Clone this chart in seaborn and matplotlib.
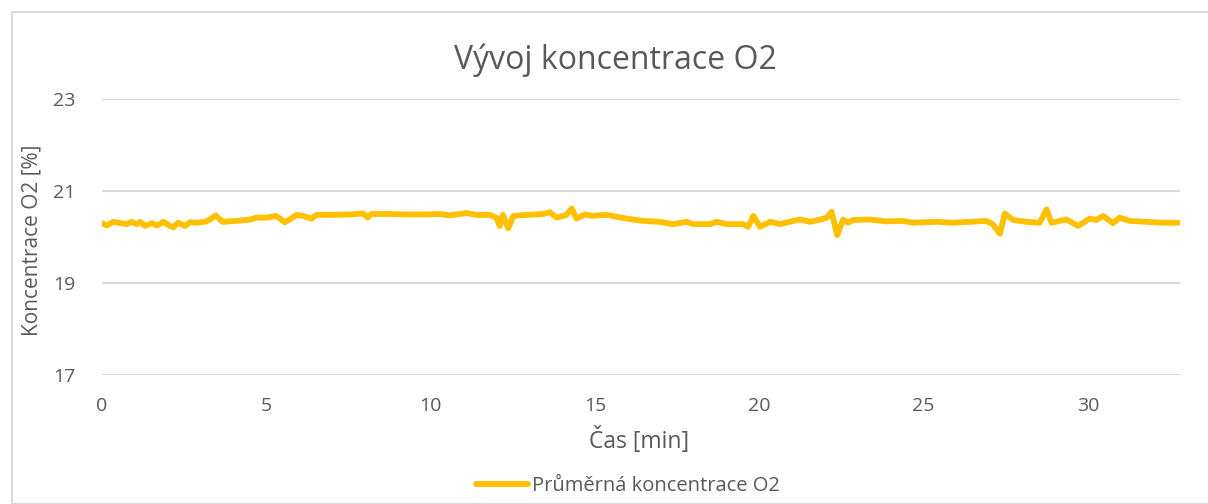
import matplotlib
matplotlib.use("Agg")
import matplotlib.pyplot as plt
import seaborn as sns
import pandas as pd
from matplotlib.patches import Rectangle

time_min = [0.0, 0.15, 0.34, 0.75, 0.9, 1.06, 1.16, 1.31, 1.52, 1.67, 1.87, 2.07, 2.17, 2.32, 2.52,
            2.68, 2.88, 3.13, 3.28, 3.46, 3.67, 4.09, 4.5, 4.7, 5.0, 5.3, 5.56, 5.71, 5.92, 6.12,
            6.37, 6.53, 6.93, 7.54, 7.95, 8.08, 8.2, 8.76, 9.26, 9.77, 10.27, 10.57, 10.78, 11.09,
            11.4, 11.8, 12.0, 12.1, 12.2, 12.36, 12.52, 12.92, 13.43, 13.63, 13.83, 14.13, 14.29,
            14.44, 14.7, 14.9, 15.35, 15.96, 16.47, 16.97, 17.38, 17.79, 17.99, 18.5, 18.7, 19.0,
            19.51, 19.66, 19.82, 20.02, 20.33, 20.63, 21.04, 21.24, 21.55, 21.85, 22.05, 22.2,
            22.37, 22.55, 22.7, 22.85, 23.36, 23.86, 24.37, 24.67, 25.38, 25.89, 26.4, 26.9, 27.1,
            27.32, 27.47, 27.72, 28.13, 28.53, 28.74, 28.89, 29.14, 29.35, 29.7, 30.05, 30.26,
            30.46, 30.76, 30.96, 31.27, 31.77, 32.28, 32.75]
o2_pct = [20.30, 20.25, 20.33, 20.28, 20.33, 20.28, 20.33, 20.24, 20.30, 20.25, 20.33, 20.24, 20.21,
          20.31, 20.24, 20.32, 20.31, 20.33, 20.38, 20.47, 20.33, 20.35, 20.38, 20.42, 20.42, 20.46,
          20.32, 20.38, 20.48, 20.46, 20.40, 20.48, 20.48, 20.49, 20.51, 20.42, 20.50, 20.50, 20.49,
          20.49, 20.50, 20.47, 20.49, 20.52, 20.48, 20.48, 20.42, 20.24, 20.48, 20.19, 20.46, 20.48,
          20.50, 20.54, 20.42, 20.48, 20.62, 20.40, 20.49, 20.46, 20.48, 20.40, 20.35, 20.33, 20.28,
          20.33, 20.28, 20.28, 20.33, 20.28, 20.28, 20.22, 20.46, 20.22, 20.33, 20.28, 20.35, 20.38,
          20.33, 20.38, 20.42, 20.55, 20.04, 20.38, 20.31, 20.37, 20.38, 20.34, 20.35, 20.31, 20.33,
          20.31, 20.33, 20.35, 20.28, 20.07, 20.51, 20.37, 20.33, 20.31, 20.60, 20.31, 20.35, 20.38,
          20.24, 20.40, 20.37, 20.46, 20.30, 20.42, 20.35, 20.33, 20.31, 20.31]

y_ticks = [17, 19, 21, 23]
x_ticks = [0, 5, 10, 15, 20, 25, 30]
series_name = "Průměrná koncentrace O2"

df = pd.DataFrame({"Čas [min]": time_min, "O2": o2_pct})

sns.set_theme(style="white")
plt.rcParams['font.family'] = ['Open Sans', 'DejaVu Sans']

W, H = 1208, 504
fig = plt.figure(figsize=(W / 100, H / 100), dpi=100)
ax = fig.add_axes([102 / W, 1 - 375 / H, (1180 - 102) / W, (375 - 99) / H])

fig.patches.append(Rectangle((12 / W, 0), 1.2, 1 - 12 / H, transform=fig.transFigure,
                             facecolor="none", edgecolor="#d9d9d9", linewidth=1.5))

sns.lineplot(data=df, x="Čas [min]", y="O2", ax=ax, color="#FFC000", linewidth=4.2,
             label=series_name, legend=False)

ax.set_xlim(0, 32.8)
ax.set_ylim(17, 23)
ax.set_yticks(y_ticks)
ax.set_xticks(x_ticks)
ax.set_xticklabels([str(t) for t in x_ticks])
ax.set_yticklabels([str(t) for t in y_ticks])
ax.yaxis.grid(True, color="#d9d9d9", linewidth=1.5)
ax.xaxis.grid(False)
for s in ax.spines.values():
    s.set_visible(False)
ax.tick_params(axis="both", colors="#595959", labelsize=14, length=0)
ax.tick_params(axis="y", pad=19)
ax.tick_params(axis="x", pad=16)

ax.set_xlabel("")
ax.set_ylabel("")
fig.text(639 / W, 1 - 440 / H, "Čas [min]", ha="center", va="center", fontsize=16.5, color="#595959")
fig.text(32 / W, 1 - 240 / H, "Koncentrace O2 [%]", ha="center", va="center", rotation=90,
         fontsize=15, color="#595959")
fig.text(615 / W, 1 - 60 / H, "Vývoj koncentrace O2", ha="center", va="center", fontsize=23,
         color="#595959")

handles, labels = ax.get_legend_handles_labels()
fig.legend(handles, labels, loc="center", bbox_to_anchor=(628 / W, 1 - 486 / H), frameon=False,
           fontsize=14.5, labelcolor="#595959", handlelength=2.6, handletextpad=0.2)

fig.savefig("out.png", dpi=100)
